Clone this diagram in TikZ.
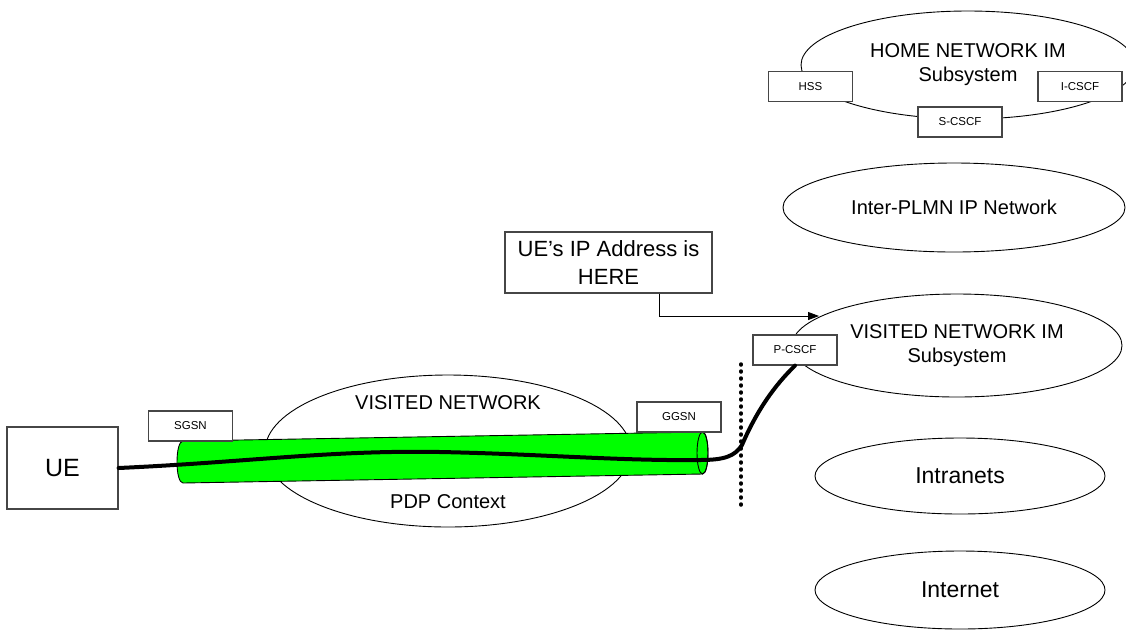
\documentclass[tikz,border=0pt]{standalone}
\usepackage{fontspec}
\setmainfont{Liberation Sans}
\usetikzlibrary{shapes.geometric,arrows.meta}

\definecolor{tubegreen}{RGB}{0,255,0}
\definecolor{boxline}{RGB}{70,70,70}

\begin{document}
\begin{tikzpicture}[x=1pt,y=-1pt,
  net/.style={ellipse, draw=black, line width=0.9pt, fill=white, inner sep=0pt, align=center,
              font=\fontsize{20}{24}\selectfont},
  tag/.style={draw=boxline, line width=1.2pt, fill=white, minimum width=84pt, minimum height=30pt,
              inner sep=0pt, font=\fontsize{11.5}{13}\selectfont},
  bigbox/.style={draw=boxline, line width=1.2pt, fill=white, inner sep=0pt, align=center},
  label/.style={inner sep=0pt, font=\fontsize{20}{24}\selectfont},
  bearer/.style={line width=4pt, line cap=round},
  border/.style={line width=3.5pt, line cap=round, dash pattern=on 1pt off 6pt}
]
\useasboundingbox (0,0) rectangle (1126,630);
\clip (0,0) rectangle (1126,630);

% networks on the right
\node[net, minimum width=334pt, minimum height=108pt] (home) at (968,65) {HOME NETWORK IM\\Subsystem};
\node[net, minimum width=342pt, minimum height=89pt] (plmn) at (954,207.5) {Inter-PLMN IP Network};
\node[net, minimum width=330pt, minimum height=103pt] (vim) at (957,345.5) {VISITED NETWORK IM\\Subsystem};
\node[net, minimum width=290pt, minimum height=76pt, font=\fontsize{23}{27}\selectfont] (intra) at (960,476) {Intranets};
\node[net, minimum width=290pt, minimum height=78pt, font=\fontsize{23}{27}\selectfont] (inet) at (960,590) {Internet};

% home network functions
\node[tag] (hss) at (810.5,86.5) {HSS};
\node[tag] (icscf) at (1080,86.5) {I-CSCF};
\node[tag] (scscf) at (960,122) {S-CSCF};

% visited network with the PDP context tube
\node[net, minimum width=366pt, minimum height=152pt] (vnet) at (448,451) {};
\node[label] (vnetname) at (448,403) {VISITED NETWORK};
\node[label] (pdp) at (448,502) {PDP Context};

\filldraw[fill=tubegreen, draw=black, line width=0.9pt]
  (183,441) -- (702.5,432)
  .. controls (709.8,432) and (709.8,474) .. (702.5,474)
  -- (183,483)
  .. controls (175,483) and (175,441) .. (183,441) -- cycle;
\draw[line width=0.9pt] (702.5,453) ellipse [x radius=5.5pt, y radius=21pt];

% nodes along the path
\node[bigbox, minimum width=111pt, minimum height=82pt, font=\fontsize{25}{29}\selectfont] (ue) at (62.5,468) {UE};
\node[tag] (sgsn) at (190.5,426) {SGSN};
\node[tag] (ggsn) at (679,417) {GGSN};
\node[tag] (pcscf) at (795,350) {P-CSCF};

% network border
\coordinate (bordertop) at (741,364);
\coordinate (borderbot) at (741,510);
\draw[border] (bordertop) -- (borderbot);

% user plane path from the UE to the P-CSCF
\draw[bearer] (ue.east) .. controls (250,462) and (330,450) .. (440,452)
  .. controls (540,454) and (620,461) .. (700,460)
  .. controls (725,460) and (735,456) .. (742,445)
  .. controls (757,410) and (775,385) .. (pcscf.south);

% address note
\node[bigbox, minimum width=207pt, minimum height=61pt, font=\fontsize{22}{28}\selectfont] (note) at (608.5,262.5)
  {UE’s IP Address is\\HERE};
\coordinate (notetip) at (819,316);
\draw[line width=0.9pt, -{Triangle[length=11pt,width=8pt]}] ([xshift=50.5pt]note.south) |- (notetip);
\end{tikzpicture}
\end{document}
